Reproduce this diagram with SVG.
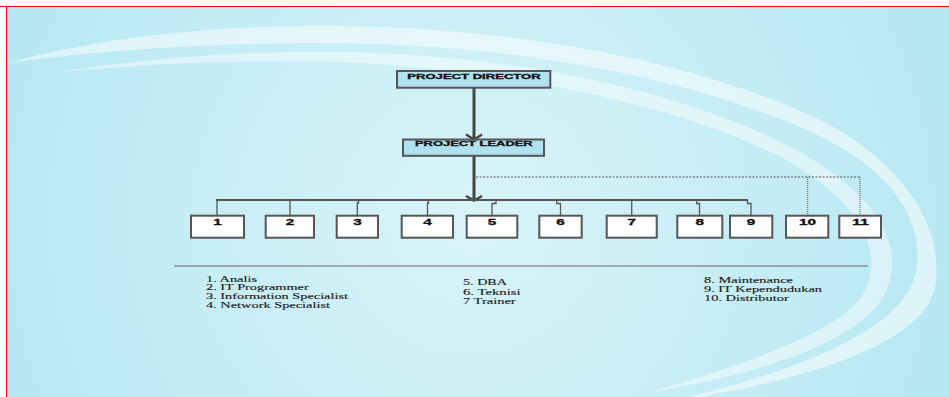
<svg xmlns="http://www.w3.org/2000/svg" width="949" height="397" viewBox="0 0 949 397">
<defs>
<radialGradient id="bg" cx="470" cy="220" r="520" gradientUnits="userSpaceOnUse">
<stop offset="0" stop-color="#d9f4f9"/>
<stop offset="0.55" stop-color="#c6edf5"/>
<stop offset="1" stop-color="#b5e7f2"/>
</radialGradient>
<style>
.title{fill:#b0e1ee;stroke:#555;stroke-width:2}
.num{fill:#fff;stroke:#555;stroke-width:2}
.tt{font-family:"Liberation Sans",Arial,sans-serif;font-weight:bold;font-size:7.5px;fill:#111;stroke:#111;stroke-width:0.35}
.nt{font-family:"Liberation Sans",Arial,sans-serif;font-weight:bold;font-size:8.5px;fill:#111;stroke:#111;stroke-width:0.3;text-anchor:middle}
.lg{font-family:"Liberation Serif","Times New Roman",serif;font-size:8.5px;fill:#1a1a1a;stroke:#1a1a1a;stroke-width:0.12}
.thick{fill:none;stroke:#444;stroke-width:3}
.bus{fill:none;stroke:#555;stroke-width:2}
.drop{fill:none;stroke:#555;stroke-width:1.3}
.dash{fill:none;stroke:#555;stroke-width:1;stroke-dasharray:2,1.5}
.dot{fill:none;stroke:#555;stroke-width:1;stroke-dasharray:1,1}
.head{fill:none;stroke:#444;stroke-width:2.5}
</style>
</defs>
<rect x="0" y="0" width="949" height="397" fill="#fff"/>
<rect x="7" y="7" width="942" height="390" fill="url(#bg)"/>
<path d="M8,63 C120,32 240,25 340,26 C520,28 700,62 820,120 C900,160 942,222 936,282 C930,332 850,370 700,397 L688,397 C830,362 906,320 916,272 C926,212 882,162 800,127 C680,76 520,46 340,43 C220,42 100,50 8,63 Z" fill="#ffffff" fill-opacity="0.5"/>
<path d="M54,73 C150,57 250,51 340,52 C520,55 690,92 800,152 C880,198 912,252 880,302 C850,342 770,372 650,392 C760,360 838,330 862,296 C888,252 858,202 790,162 C690,108 520,70 340,62 C240,60 150,63 54,73 Z" fill="#ffffff" fill-opacity="0.45"/>
<line x1="0" y1="6.5" x2="949" y2="6.5" stroke="#ff0000" stroke-width="1"/>
<line x1="6.5" y1="6.5" x2="6.5" y2="397" stroke="#ff0000" stroke-width="1"/>

<g id="connectors">
<line class="thick" x1="474" y1="88" x2="474" y2="139"/>
<polyline class="head" points="466,134.5 474,139.5 482,134.5"/>
<line class="thick" x1="474" y1="156" x2="474" y2="200"/>
<polyline class="head" points="466,196 474,200.5 482,196"/>
<line class="bus" x1="216" y1="200" x2="748" y2="200"/>
<line class="drop" x1="217" y1="200" x2="217" y2="216"/>
<line class="drop" x1="290" y1="200" x2="290" y2="216"/>
<path class="drop" d="M358.5,200 V203 H357.3 V216"/>
<path class="drop" d="M428.5,200 V203 H427.5 V216"/>
<path class="drop" d="M496,200 V203.5 H492 V216"/>
<path class="drop" d="M556.7,200 V203.5 H560.5 V216"/>
<line class="drop" x1="631.7" y1="200" x2="631.7" y2="216"/>
<path class="drop" d="M696.7,200 V203.5 H699.5 V216"/>
<path class="drop" d="M747.5,200 V203.5 H751 V216"/>
<line class="dash" x1="476" y1="177" x2="860" y2="177"/>
<line class="dot" x1="807.7" y1="177" x2="807.7" y2="216"/>
<line class="dot" x1="860" y1="177" x2="860" y2="216"/>
</g>

<g id="project-director">
<rect class="title" x="397" y="71" width="153.3" height="16.7"/>
<text class="tt" x="407.3" y="78.5" textLength="133.4" lengthAdjust="spacingAndGlyphs">PROJECT DIRECTOR</text>
</g>
<g id="project-leader">
<rect class="title" x="403" y="139.5" width="141" height="16.3"/>
<text class="tt" x="415" y="145.5" textLength="117.7" lengthAdjust="spacingAndGlyphs">PROJECT LEADER</text>
</g>

<g id="n1"><rect class="num" x="191" y="215.7" width="53" height="22"/><text class="nt" x="217.5" y="224.5" textLength="8.5" lengthAdjust="spacingAndGlyphs">1</text></g>
<g id="n2"><rect class="num" x="265.7" y="215.7" width="48.3" height="22"/><text class="nt" x="289.9" y="224.5" textLength="8.5" lengthAdjust="spacingAndGlyphs">2</text></g>
<g id="n3"><rect class="num" x="336.7" y="215.7" width="41.3" height="22"/><text class="nt" x="357.4" y="224.5" textLength="8.5" lengthAdjust="spacingAndGlyphs">3</text></g>
<g id="n4"><rect class="num" x="401.7" y="215.7" width="51.3" height="22"/><text class="nt" x="427.4" y="224.5" textLength="8.5" lengthAdjust="spacingAndGlyphs">4</text></g>
<g id="n5"><rect class="num" x="466.7" y="215.7" width="50.6" height="22"/><text class="nt" x="492" y="224.5" textLength="8.5" lengthAdjust="spacingAndGlyphs">5</text></g>
<g id="n6"><rect class="num" x="539.3" y="215.7" width="42.4" height="22"/><text class="nt" x="560.5" y="224.5" textLength="8.5" lengthAdjust="spacingAndGlyphs">6</text></g>
<g id="n7"><rect class="num" x="606.7" y="215.7" width="50" height="22"/><text class="nt" x="631.7" y="224.5" textLength="8.5" lengthAdjust="spacingAndGlyphs">7</text></g>
<g id="n8"><rect class="num" x="677.3" y="215.7" width="45" height="22"/><text class="nt" x="699.8" y="224.5" textLength="8.5" lengthAdjust="spacingAndGlyphs">8</text></g>
<g id="n9"><rect class="num" x="730" y="215.7" width="42.3" height="22"/><text class="nt" x="751.1" y="224.5" textLength="8.5" lengthAdjust="spacingAndGlyphs">9</text></g>
<g id="n10"><rect class="num" x="786" y="215.7" width="42.3" height="22"/><text class="nt" x="807.5" y="224.5" textLength="17" lengthAdjust="spacingAndGlyphs">10</text></g>
<g id="n11"><rect class="num" x="839.3" y="215.7" width="41.7" height="22"/><text class="nt" x="860.5" y="224.5" textLength="17" lengthAdjust="spacingAndGlyphs">11</text></g>

<g id="legend">
<line x1="174" y1="266" x2="868" y2="266" stroke="#666" stroke-width="1.2"/>
<text class="lg" x="206" y="281.5" textLength="51" lengthAdjust="spacingAndGlyphs">1. Analis</text>
<text class="lg" x="206" y="290.3" textLength="102.7" lengthAdjust="spacingAndGlyphs">2. IT Programmer</text>
<text class="lg" x="206" y="299.2" textLength="142" lengthAdjust="spacingAndGlyphs">3. Information Specialist</text>
<text class="lg" x="206" y="308.1" textLength="124" lengthAdjust="spacingAndGlyphs">4. Network Specialist</text>
<text class="lg" x="463" y="285.2" textLength="44" lengthAdjust="spacingAndGlyphs">5. DBA</text>
<text class="lg" x="463" y="295.1" textLength="57.6" lengthAdjust="spacingAndGlyphs">6. Teknisi</text>
<text class="lg" x="463" y="304.1" textLength="52.7" lengthAdjust="spacingAndGlyphs">7 Trainer</text>
<text class="lg" x="704" y="282.5" textLength="89" lengthAdjust="spacingAndGlyphs">8. Maintenance</text>
<text class="lg" x="704" y="292.1" textLength="118" lengthAdjust="spacingAndGlyphs">9. IT Kependudukan</text>
<text class="lg" x="704" y="301.1" textLength="84.7" lengthAdjust="spacingAndGlyphs">10. Distributor</text>
</g>
</svg>
